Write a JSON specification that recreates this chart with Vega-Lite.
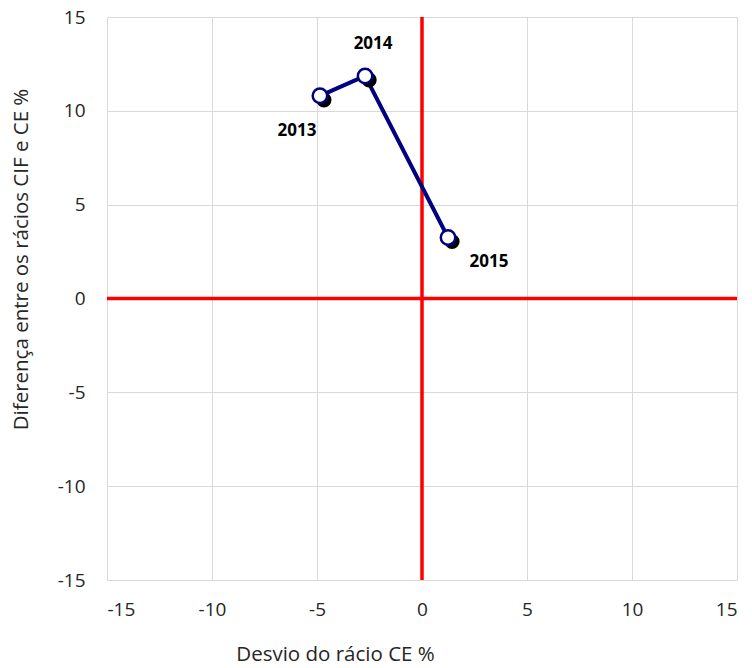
{
  "$schema": "https://vega.github.io/schema/vega-lite/v6.json",
  "width": 630,
  "height": 563,
  "autosize": {"type": "none"},
  "padding": {"left": 107, "top": 17, "right": 15, "bottom": 88},
  "background": "white",
  "config": {
    "view": {"stroke": null},
    "font": "Open Sans",
    "axis": {
      "grid": true,
      "gridColor": "#d9d9d9",
      "gridWidth": 1,
      "domain": false,
      "ticks": false,
      "labelFont": "Open Sans",
      "labelFontSize": 19,
      "labelColor": "#262626",
      "titleFont": "Open Sans",
      "titleFontSize": 20.5,
      "titleFontWeight": "normal",
      "titleColor": "#262626",
      "labelExpr": "replace(datum.label, '\u2212', '-')"
    }
  },
  "data": {
    "values": [
      {"x": -4.86, "y": 10.8, "year": "2013"},
      {"x": -2.71, "y": 11.86, "year": "2014"},
      {"x": 1.24, "y": 3.25, "year": "2015"}
    ]
  },
  "encoding": {
    "x": {
      "field": "x", "type": "quantitative",
      "scale": {"domain": [-15, 15], "nice": false, "zero": false},
      "axis": {"values": [-15, -10, -5, 0, 5, 10, 15], "title": "Desvio do rácio CE %", "labelPadding": 20, "titleX": 228, "titleY": 74, "titleBaseline": "middle", "titleAlign": "center"}
    },
    "y": {
      "field": "y", "type": "quantitative",
      "scale": {"domain": [-15, 15], "nice": false, "zero": false},
      "axis": {"values": [-15, -10, -5, 0, 5, 10, 15], "title": "Diferença entre os rácios CIF e CE %", "labelPadding": 22, "titleX": -86, "titleY": 242, "titleBaseline": "middle", "titleAlign": "center", "titleAngle": -90}
    }
  },
  "layer": [
    {
      "data": {"values": [{"v": 0}]},
      "mark": {"type": "rule", "color": "#ff0000", "strokeWidth": 3.5},
      "encoding": {"x": {"field": "v", "type": "quantitative"}, "y": null}
    },
    {
      "data": {"values": [{"v": 0}]},
      "mark": {"type": "rule", "color": "#ff0000", "strokeWidth": 3.5},
      "encoding": {"y": {"field": "v", "type": "quantitative"}, "x": null}
    },
    {
      "mark": {"type": "line", "color": "#000080", "strokeWidth": 4},
      "encoding": {"order": {"field": "year"}}
    },
    {
      "mark": {"type": "point", "shape": "circle", "filled": true, "color": "#000000", "size": 230, "opacity": 1, "xOffset": 4, "yOffset": 4}
    },
    {
      "mark": {"type": "point", "shape": "circle", "filled": true, "fill": "white", "stroke": "#000080", "strokeWidth": 2.5, "size": 210, "opacity": 1}
    },
    {
      "transform": [{"filter": "datum.year == '2013'"}],
      "mark": {"type": "text", "fontWeight": "bold", "fontSize": 17, "color": "#000", "dx": -23, "dy": 35, "font": "Open Sans"},
      "encoding": {"text": {"field": "year"}}
    },
    {
      "transform": [{"filter": "datum.year == '2014'"}],
      "mark": {"type": "text", "fontWeight": "bold", "fontSize": 17, "color": "#000", "dx": 8, "dy": -32, "font": "Open Sans"},
      "encoding": {"text": {"field": "year"}}
    },
    {
      "transform": [{"filter": "datum.year == '2015'"}],
      "mark": {"type": "text", "fontWeight": "bold", "fontSize": 17, "color": "#000", "dx": 41, "dy": 24, "font": "Open Sans"},
      "encoding": {"text": {"field": "year"}}
    }
  ]
}
